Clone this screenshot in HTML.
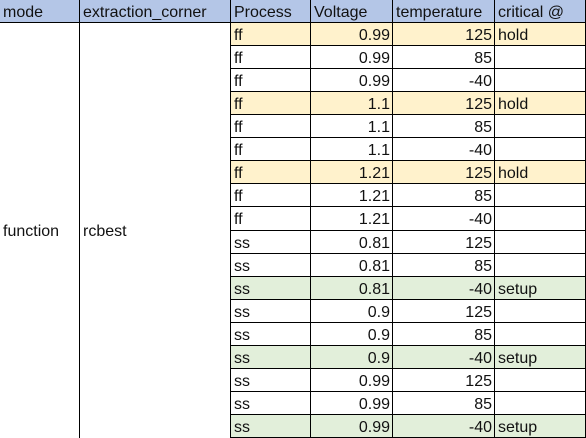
<!DOCTYPE html>
<html><head><meta charset="utf-8"><style>
body{margin:0;width:586px;height:438px;overflow:hidden;background:#fff;font-family:"Liberation Sans","Noto Sans CJK SC",sans-serif;font-size:16px;color:#111}
#t{position:relative;width:586px;height:438px}
.c{position:absolute;box-sizing:border-box;padding:2px 3px 0 3px;white-space:nowrap;overflow:hidden}
.h{background:#b4c6e7}
.r{text-align:right}
.ln{position:absolute;background:#000}
</style></head><body>
<div id="t"></div>
<script>
const process=["ff","ff","ff","ff","ff","ff","ff","ff","ff","ss","ss","ss","ss","ss","ss","ss","ss","ss"];
const voltage=["0.99","0.99","0.99","1.1","1.1","1.1","1.21","1.21","1.21","0.81","0.81","0.81","0.9","0.9","0.9","0.99","0.99","0.99"];
const temperature=["125","85","-40","125","85","-40","125","85","-40","125","85","-40","125","85","-40","125","85","-40"];
const critical=["hold","","","hold","","","hold","","","","","setup","","","setup","","","setup"];
const headers=["mode","extraction_corner","Process","Voltage","temperature","critical @"];
const xs=[0,80,231,311,393,495,586];
const t=document.getElementById('t');
const H=23, RH=(438-23)/18;
function cell(x0,x1,y0,h,txt,cls,bg,name){
  const d=document.createElement('div');
  d.className='c '+cls;
  d.style.left=x0+'px';d.style.width=(x1-x0)+'px';d.style.top=y0+'px';d.style.height=h+'px';
  d.style.lineHeight=(h-2)+'px';
  if(bg)d.style.background=bg;
  d.textContent=txt;
  
  
  t.appendChild(d);
}
headers.forEach((h,i)=>cell(xs[i],xs[i+1],0,H,h,'h','', 'header-'+i));
cell(0,80,H,438-H,'function','','', 'mode-cell');
cell(80,231,H,438-H,'rcbest','','', 'extraction-corner-cell');
for(let i=0;i<18;i++){
  const y=H+i*RH;
  const bg=critical[i]==='hold'?'#fff2cc':critical[i]==='setup'?'#e2efda':'';
  cell(xs[2],xs[3],y,RH,process[i],'',bg,'process-cell');
  cell(xs[3],xs[4],y,RH,voltage[i],'r',bg,'voltage-cell');
  cell(xs[4],xs[5],y,RH,temperature[i],'r',bg,'temperature-cell');
  cell(xs[5],xs[6],y,RH,critical[i],'',bg,'critical-cell');
}
function line(x,y,w,h,name){
  const l=document.createElement('div');l.className='ln';
  l.style.left=x+'px';l.style.top=y+'px';l.style.width=w+'px';l.style.height=h+'px';
  
  
  t.appendChild(l);
}
line(0,H-1,586,1,'header-rule');
for(let i=1;i<=18;i++) line(xs[2],Math.round(H+i*RH)-1,586-xs[2],1,'row-rule');
[1,2,3,4,5].forEach(i=>line(xs[i]-1,0,1,438,'col-rule'));
line(585,0,1,438,'col-rule');
</script>
</body></html>
